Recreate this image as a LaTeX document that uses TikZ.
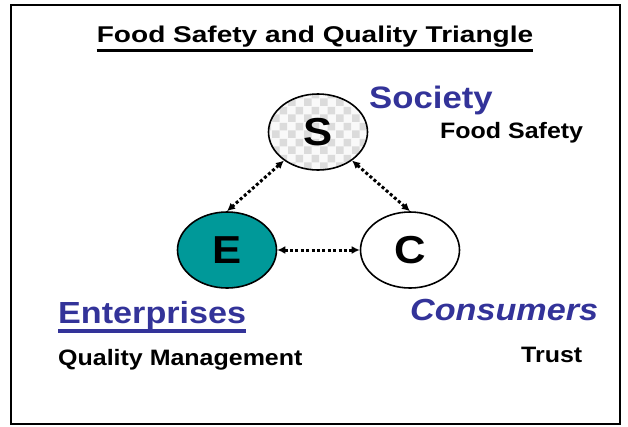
\documentclass[tikz,border=0pt]{standalone}
\usepackage{fontspec}
\setmainfont{Liberation Sans}[FakeStretch=1.12]
\newfontfamily\titlefont{Liberation Sans}[FakeStretch=1.23]
\usetikzlibrary{shapes.geometric,patterns.meta,arrows.meta}
\definecolor{labelblue}{RGB}{51,51,153}
\definecolor{teal}{RGB}{0,153,153}
\tikzdeclarepattern{name=checks,type=uncolored,
  bounding box={(0pt,0pt) and (16pt,16pt)},tile size={(16pt,16pt)},
  code={\fill (0pt,0pt) rectangle (8pt,8pt); \fill (8pt,8pt) rectangle (16pt,16pt);}}
\tikzset{
  party/.style={ellipse,draw=black,line width=1.6pt,inner sep=0pt,
    minimum width=99pt,minimum height=76pt,font=\fontsize{39}{40}\selectfont\bfseries},
  link/.style={line width=3pt,dash pattern=on 3pt off 2.4pt,
    {Latex[length=8pt,width=8pt]}-{Latex[length=8pt,width=8pt]}},
  group/.style={anchor=base west,inner sep=0pt,text=labelblue,font=\fontsize{30.5}{32}\selectfont\bfseries},
  role/.style={anchor=base west,inner sep=0pt,font=\fontsize{22.3}{24}\selectfont\bfseries}
}
\begin{document}
\begin{tikzpicture}[x=1pt,y=-1pt]
    \useasboundingbox (0,0) rectangle (628,426);
    \draw[line width=2.2pt] (11,5) rectangle (620,424);
    \node[anchor=base,inner sep=0pt,font=\titlefont\fontsize{22.8}{24}\selectfont\bfseries] (title) at (315,42.7) {Food Safety and Quality Triangle};
    \draw[line width=2.7pt] ([yshift=-7.6pt]title.base west) -- ([yshift=-7.6pt]title.base east);
    % the three parties
    \node[party,preaction={fill=gray!5},pattern={checks},pattern color=gray!28] (S) at (318,132) {S};
    \node[party,fill=teal] (E) at (227,250) {E};
    \node[party,fill=white] (C) at (410,250) {C};
    \draw[link] (S.220) -- (E.north);
    \draw[link] (S.320) -- (C.north);
    \draw[link] (E.east) -- (C.west);
    % labels
    \node[group,font=\fontsize{31}{32}\selectfont\bfseries] (society) at (369,108.3) {Society};
    \node[role] (safety) at (440,138.3) {Food Safety};
    \node[group] (enterprises) at (58,323.3) {Enterprises};
    \draw[labelblue,line width=3.3pt] ([yshift=-7.7pt]enterprises.base west) -- ([yshift=-7.7pt]enterprises.base east);
    \node[role] (quality) at (58,365) {Quality Management};
    \node[group,font=\fontsize{30.5}{32}\selectfont\bfseries\itshape] (consumers) at (410,320) {Consumers};
    \node[role] (trust) at (521,362.7) {Trust};
\end{tikzpicture}
\end{document}
